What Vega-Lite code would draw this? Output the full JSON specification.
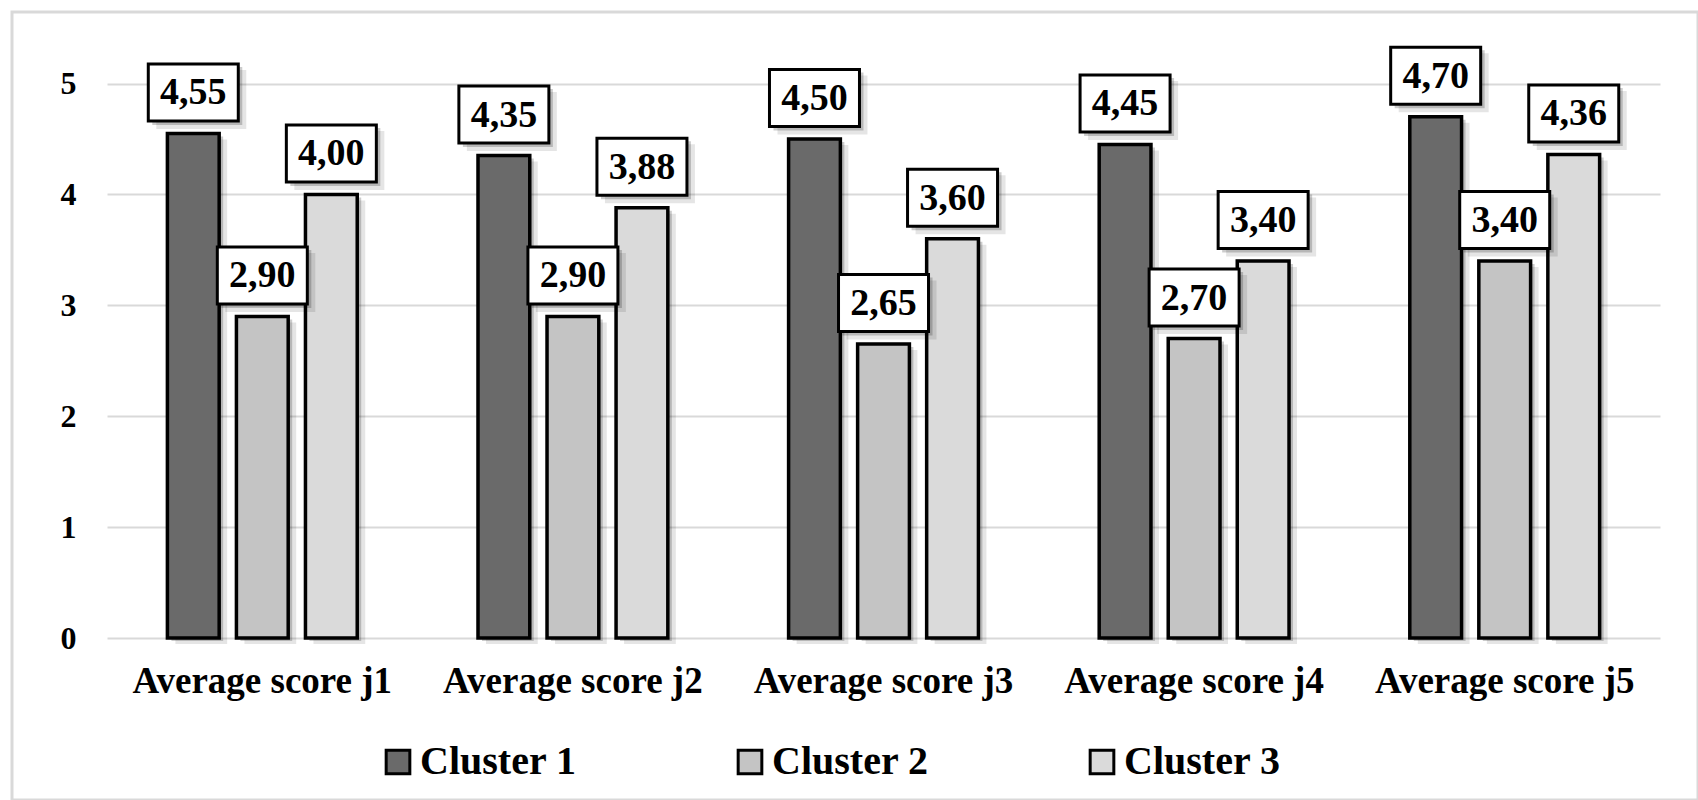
{
  "$schema": "https://vega.github.io/schema/vega-lite/v6.json",
  "autosize": {"type": "none"},
  "padding": {"left": 12, "top": 12, "right": 0, "bottom": 0},
  "width": 1686,
  "height": 788,
  "background": "white",
  "config": {
    "font": "Liberation Serif",
    "view": {"stroke": "#d9d9d9", "strokeWidth": 3},
    "locale": {"number": {"decimal": ",", "thousands": ".", "grouping": [3], "currency": ["", ""]}}
  },
  "data": {
    "values": [
      {"Category": "Average score j1", "Cluster": "Cluster 1", "Score": 4.55},
      {"Category": "Average score j1", "Cluster": "Cluster 2", "Score": 2.90},
      {"Category": "Average score j1", "Cluster": "Cluster 3", "Score": 4.00},
      {"Category": "Average score j2", "Cluster": "Cluster 1", "Score": 4.35},
      {"Category": "Average score j2", "Cluster": "Cluster 2", "Score": 2.90},
      {"Category": "Average score j2", "Cluster": "Cluster 3", "Score": 3.88},
      {"Category": "Average score j3", "Cluster": "Cluster 1", "Score": 4.50},
      {"Category": "Average score j3", "Cluster": "Cluster 2", "Score": 2.65},
      {"Category": "Average score j3", "Cluster": "Cluster 3", "Score": 3.60},
      {"Category": "Average score j4", "Cluster": "Cluster 1", "Score": 4.45},
      {"Category": "Average score j4", "Cluster": "Cluster 2", "Score": 2.70},
      {"Category": "Average score j4", "Cluster": "Cluster 3", "Score": 3.40},
      {"Category": "Average score j5", "Cluster": "Cluster 1", "Score": 4.70},
      {"Category": "Average score j5", "Cluster": "Cluster 2", "Score": 3.40},
      {"Category": "Average score j5", "Cluster": "Cluster 3", "Score": 4.36}
    ]
  },
  "encoding": {
    "x": {
      "field": "Category", "type": "nominal", "sort": null,
      "scale": {"type": "band", "range": [95, 1648], "paddingInner": 0.38, "paddingOuter": 0.19},
      "axis": {
        "title": null, "orient": "bottom", "offset": -162, "domain": false, "ticks": false, "grid": false,
        "labelPadding": 25, "labelFontSize": 37, "labelFontWeight": "bold", "labelColor": "black",
        "labelAngle": 0, "labelLimit": 0, "labelFont": "Liberation Serif"
      }
    },
    "y": {
      "field": "Score", "type": "quantitative",
      "scale": {"domain": [0, 5], "range": [626, 71.5], "nice": false, "zero": true},
      "axis": {
        "title": null, "values": [0, 1, 2, 3, 4, 5], "offset": -95, "domain": false, "ticks": false,
        "labelPadding": 31, "labelFontSize": 32, "labelFontWeight": "bold", "labelColor": "black",
        "labelFont": "Liberation Serif", "gridColor": "#d9d9d9", "gridWidth": 2, "format": "d"
      }
    }
  },
  "resolve": {"scale": {"xOffset": "independent"}},
  "layer": [
    {
      "mark": {"type": "bar", "fill": "black", "opacity": 0.1, "yOffset": 6, "y2Offset": 8},
      "encoding": {
        "xOffset": {"field": "Cluster", "type": "nominal", "sort": null,
          "scale": {"type": "band", "paddingInner": 0.25, "paddingOuter": 0.02, "range": [8, 200.6]}}
      }
    },
    {
      "mark": {"type": "bar", "fill": "black", "opacity": 0.2, "yOffset": 3, "y2Offset": 5},
      "encoding": {
        "xOffset": {"field": "Cluster", "type": "nominal", "sort": null,
          "scale": {"type": "band", "paddingInner": 0.25, "paddingOuter": 0.02, "range": [4, 196.6]}}
      }
    },
    {
      "mark": {"type": "bar", "stroke": "black", "strokeWidth": 3.5},
      "encoding": {
        "xOffset": {"field": "Cluster", "type": "nominal", "sort": null,
          "scale": {"type": "band", "paddingInner": 0.25, "paddingOuter": 0.02, "range": [0, 192.6]}},
        "color": {
          "field": "Cluster", "type": "nominal",
          "scale": {"domain": ["Cluster 1", "Cluster 2", "Cluster 3"], "range": ["#6a6a6a", "#c4c4c4", "#dadada"]},
          "legend": {
            "title": null, "orient": "none", "legendX": 366, "legendY": 730, "direction": "horizontal",
            "symbolType": "square", "symbolSize": 560, "symbolStrokeColor": "black", "symbolStrokeWidth": 3,
            "symbolOpacity": 1, "labelFontSize": 40, "labelFontWeight": "bold", "labelColor": "black",
            "labelFont": "Liberation Serif", "labelOffset": 2, "columnPadding": 153, "padding": 0, "labelLimit": 0
          }
        }
      }
    },
    {
      "mark": {"type": "point", "shape": "M-0.74,-0.53H1.06V0.65H-0.74Z", "size": 10000, "filled": true, "fill": "black", "opacity": 0.1, "strokeWidth": 0, "yOffset": -37},
      "encoding": {
        "xOffset": {"field": "Cluster", "type": "nominal", "sort": null,
          "scale": {"type": "band", "paddingInner": 0.25, "paddingOuter": 0.02, "range": [0, 192.6]}}
      }
    },
    {
      "mark": {"type": "point", "shape": "M-0.82,-0.55H0.98V0.61H-0.82Z", "size": 10000, "filled": true, "fill": "black", "opacity": 0.2, "strokeWidth": 0, "yOffset": -39},
      "encoding": {
        "xOffset": {"field": "Cluster", "type": "nominal", "sort": null,
          "scale": {"type": "band", "paddingInner": 0.25, "paddingOuter": 0.02, "range": [0, 192.6]}}
      }
    },
    {
      "mark": {"type": "point", "shape": "M-0.9,-0.57H0.9V0.57H-0.9Z", "size": 10000, "filled": true, "fill": "white", "stroke": "black", "strokeWidth": 3, "opacity": 1, "yOffset": -41},
      "encoding": {
        "xOffset": {"field": "Cluster", "type": "nominal", "sort": null,
          "scale": {"type": "band", "paddingInner": 0.25, "paddingOuter": 0.02, "range": [0, 192.6]}}
      }
    },
    {
      "mark": {"type": "text", "fontSize": 38, "fontWeight": "bold", "font": "Liberation Serif", "baseline": "middle", "yOffset": -40, "color": "black"},
      "encoding": {
        "xOffset": {"field": "Cluster", "type": "nominal", "sort": null,
          "scale": {"type": "band", "paddingInner": 0.25, "paddingOuter": 0.02, "range": [0, 192.6]}},
        "text": {"field": "Score", "type": "quantitative", "format": ".2f"}
      }
    }
  ]
}
